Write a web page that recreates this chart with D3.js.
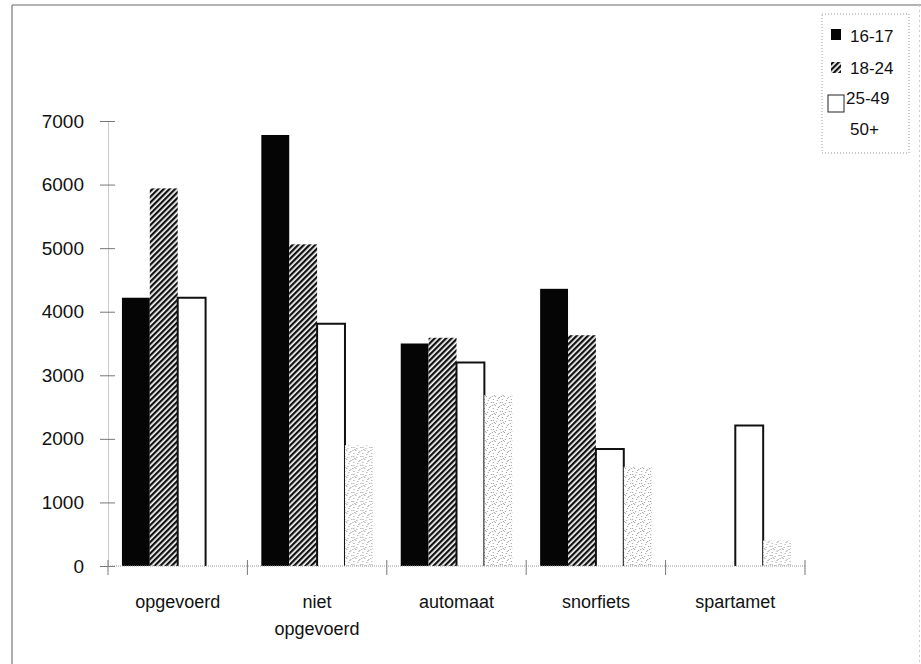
<!DOCTYPE html>
<html>
<head>
<meta charset="utf-8">
<script src="https://cdn.jsdelivr.net/npm/d3@7"></script>
<style>
  html, body { margin: 0; padding: 0; background: #fff; }
  svg { display: block; font-family: "Liberation Sans", Arial, sans-serif; }
</style>
</head>
<body>
<svg id="chart" width="921" height="664"></svg>
<script>
// Categories (x axis) and age groups (series)
const categories = ["opgevoerd", "niet opgevoerd", "automaat", "snorfiets", "spartamet"];
const series = ["16-17", "18-24", "25-49", "50+"];

// Values per age group, in category order
const values1617 = [4220, 6780, 3500, 4360, 0];
const values1824 = [5940, 5060, 3590, 3630, 0];
const values2549 = [4220, 3810, 3200, 1840, 2210];
const values50p  = [0, 1900, 2690, 1560, 400];

const yTicks = [0, 1000, 2000, 3000, 4000, 5000, 6000, 7000];

const seriesValues = [values1617, values1824, values2549, values50p];

const svg = d3.select("#chart");
const defs = svg.append("defs");

// Diagonal hatch fill
const hatch = defs.append("pattern")
  .attr("id", "hatch").attr("patternUnits", "userSpaceOnUse")
  .attr("width", 4).attr("height", 4)
  .attr("patternTransform", "rotate(-45)");
hatch.append("rect").attr("width", 4).attr("height", 4).attr("fill", "#fff");
hatch.append("rect").attr("width", 4).attr("height", 2.3).attr("fill", "#111");

// Light stipple fill
const stip = defs.append("pattern")
  .attr("id", "stipple").attr("patternUnits", "userSpaceOnUse")
  .attr("width", 9).attr("height", 9);
stip.append("rect").attr("width", 9).attr("height", 9).attr("fill", "#fff");
[[0,0],[4,1],[7,3],[2,4],[5,6],[1,7],[8,8],[3,2],[6,0],[7,6]].forEach(([dx, dy]) => {
  stip.append("rect").attr("x", dx).attr("y", dy).attr("width", 1).attr("height", 1)
    .attr("fill", "#9a9a9a");
});

const fills = ["#050505", "url(#hatch)", "#fff", "url(#stipple)"];

// Scales
const x0 = d3.scaleBand().domain(categories).range([108, 805]).paddingInner(0).paddingOuter(0);
const x1 = d3.scaleBand().domain(series).range([0, x0.bandwidth()]).paddingInner(0).paddingOuter(0.5);
const y = d3.scaleLinear().domain([0, 7000]).range([566, 121]);

// Outer frame
svg.append("line").attr("x1", 12).attr("x2", 12).attr("y1", 5).attr("y2", 664)
  .attr("stroke", "#777").attr("stroke-width", 1.2);
svg.append("line").attr("x1", 12).attr("x2", 921).attr("y1", 5).attr("y2", 5)
  .attr("stroke", "#666").attr("stroke-width", 1.2);
svg.append("line").attr("x1", 919.5).attr("x2", 919.5).attr("y1", 5).attr("y2", 664)
  .attr("stroke", "#ccc").attr("stroke-width", 1).attr("stroke-dasharray", "2,3");

// Bars
const groups = svg.append("g").selectAll("g")
  .data(categories).join("g")
  .attr("transform", d => `translate(${x0(d)},0)`);

series.forEach((s, si) => {
  groups.append("rect")
    .attr("x", x1(s))
    .attr("width", x1.bandwidth())
    .attr("y", (d, ci) => y(seriesValues[si][ci]))
    .attr("height", (d, ci) => y(0) - y(seriesValues[si][ci]))
    .attr("fill", fills[si])
    .attr("display", (d, ci) => seriesValues[si][ci] > 0 ? null : "none");
  // Open outline (sides and top) for the white series, drawn under the next bar
  if (si === 2) {
    groups.append("path")
      .attr("d", (d, ci) => {
        const v = seriesValues[si][ci];
        if (v <= 0) return null;
        const xl = x1(s), xr = x1(s) + x1.bandwidth();
        return `M${xl},${y(0)}V${y(v)}H${xr}V${y(0)}`;
      })
      .attr("fill", "none").attr("stroke", "#111").attr("stroke-width", 2);
  }
});

// Y axis
const yAxis = d3.axisLeft(y).tickValues(yTicks).tickSize(0).tickPadding(24)
  .tickFormat(d3.format("d"));
const gy = svg.append("g").attr("transform", "translate(108,0)").call(yAxis);
gy.select(".domain").attr("stroke", "#999").attr("stroke-dasharray", "1,1");
gy.selectAll(".tick text").attr("font-size", 19).attr("fill", "#111")
  .attr("font-family", "'Liberation Sans', Arial, sans-serif");
gy.selectAll(".tick").append("line")
  .attr("x1", -8).attr("x2", 7).attr("stroke", "#777").attr("stroke-width", 1);

// X axis
const gx = svg.append("g").attr("transform", "translate(0,566)");
gx.append("line").attr("x1", 108).attr("x2", 805).attr("stroke", "#999")
  .attr("stroke-dasharray", "1,1");
const bounds = categories.map(c => x0(c)).concat([x0.range()[1]]);
gx.selectAll("line.bt").data(bounds).join("line").attr("class", "bt")
  .attr("x1", d => d).attr("x2", d => d).attr("y1", -6).attr("y2", 9)
  .attr("stroke", "#777");

// Category labels (wrapped onto two lines where needed)
const labelLines = { "niet opgevoerd": ["niet", "opgevoerd"] };
categories.forEach(c => {
  const lines = labelLines[c] || [c];
  const t = svg.append("text")
    .attr("x", x0(c) + x0.bandwidth() / 2)
    .attr("y", 608)
    .attr("text-anchor", "middle")
    .attr("font-size", 18)
    .attr("fill", "#111");
  lines.forEach((ln, i) => {
    t.append("tspan").attr("x", x0(c) + x0.bandwidth() / 2)
      .attr("dy", i === 0 ? 0 : 27).text(ln);
  });
});

// Legend
const lg = svg.append("g");
lg.append("rect").attr("x", 822).attr("y", 14).attr("width", 87).attr("height", 139)
  .attr("fill", "#fff").attr("stroke", "#999").attr("stroke-dasharray", "1,2");
const legendRows = [
  { s: series[0], sw: { x: 831, y: 29, w: 10, h: 11 }, tx: 850, ty: 42 },
  { s: series[1], sw: { x: 831, y: 62, w: 10, h: 11 }, tx: 850, ty: 74 },
  { s: series[2], sw: { x: 828, y: 95, w: 16, h: 17 }, tx: 846, ty: 104 },
  { s: series[3], sw: { x: 831, y: 124, w: 10, h: 11 }, tx: 850, ty: 135 }
];
legendRows.forEach((r, i) => {
  lg.append("rect").attr("x", r.sw.x).attr("y", r.sw.y).attr("width", r.sw.w).attr("height", r.sw.h)
    .attr("fill", i === 3 ? "#fff" : fills[i])
    .attr("stroke", i === 2 ? "#222" : "none").attr("stroke-width", 1);
  lg.append("text").attr("x", r.tx).attr("y", r.ty).attr("font-size", 17).attr("fill", "#111")
    .text(r.s);
});
</script>
</body>
</html>
